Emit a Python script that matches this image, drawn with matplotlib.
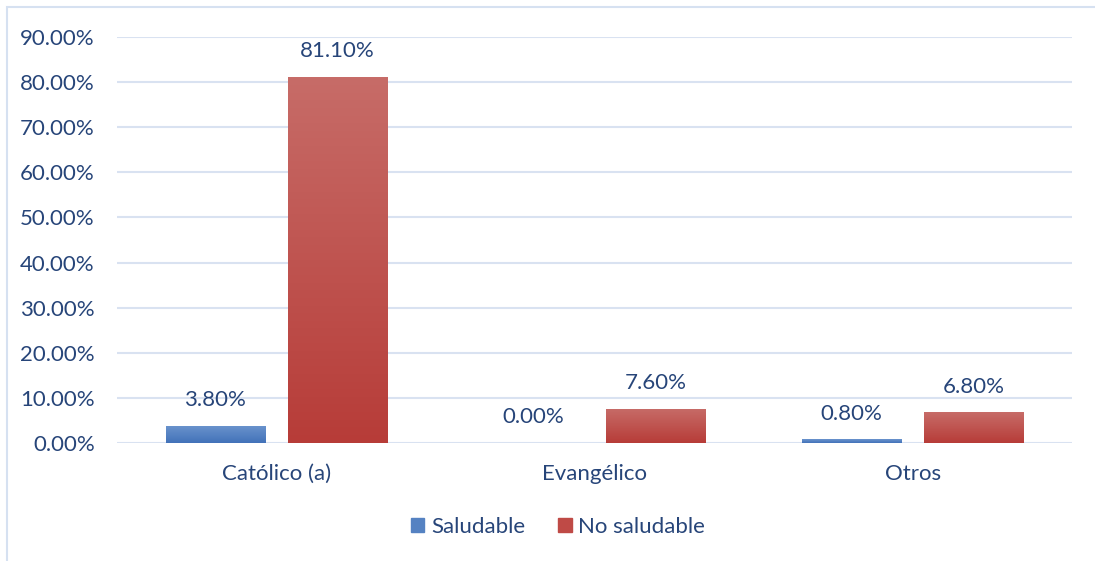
import matplotlib
matplotlib.use("Agg")
import matplotlib.pyplot as plt
import numpy as np
from matplotlib.patches import Rectangle
from matplotlib.colors import LinearSegmentedColormap

categories = ["Católico (a)", "Evangélico", "Otros"]
saludable = [3.80, 0.00, 0.80]
no_saludable = [81.10, 7.60, 6.80]
series_names = ["Saludable", "No saludable"]
y_ticks = [0, 10, 20, 30, 40, 50, 60, 70, 80, 90]

plt.rcParams['font.family'] = ['Lato', 'DejaVu Sans']
txt_color = '#274579'
grid_color = '#D9E2F1'
fs = 16

fig = plt.figure(figsize=(10.95, 5.61), dpi=100)
ax = fig.add_axes([117/1095, 118/561, (1072-117)/1095, (443-37)/561])

x = np.arange(len(categories))
w = 0.311
off = 0.192
b1 = ax.bar(x - off, saludable, w, color='#5582C2', label=series_names[0], zorder=3)
b2 = ax.bar(x + off, no_saludable, w, color='#BF4A46', label=series_names[1], zorder=3)

cm_blue = LinearSegmentedColormap.from_list('b', ['#4272B9', '#6B94CD'])
cm_red = LinearSegmentedColormap.from_list('r', ['#B73C38', '#C76C68'])
grad = np.linspace(0, 1, 256).reshape(-1, 1)
for bars, cm in ((b1, cm_blue), (b2, cm_red)):
    for p in bars:
        x0, y0 = p.get_x(), p.get_y()
        bw, bh = p.get_width(), p.get_height()
        if bh <= 0:
            continue
        im = ax.imshow(grad, cmap=cm, origin='lower', aspect='auto',
                       extent=(x0, x0 + bw, y0, y0 + bh), zorder=4)
        im.set_clip_path(p)

for bars, vals in ((b1, saludable), (b2, no_saludable)):
    for p, v in zip(bars, vals):
        ax.annotate(f"{v:.2f}%", (p.get_x() + p.get_width()/2, v),
                    xytext=(0, 18.5), textcoords='offset points',
                    ha='center', va='center', fontsize=fs, color=txt_color, zorder=5)

ax.set_xlim(-0.5, 2.5)
ax.set_ylim(0, 90)
ax.set_yticks(y_ticks)
ax.set_yticklabels([f"{t:.2f}%" for t in y_ticks])
ax.set_xticks(x)
ax.set_xticklabels(categories)
ax.tick_params(axis='both', length=0, labelsize=fs, labelcolor=txt_color)
ax.tick_params(axis='y', pad=16)
ax.tick_params(axis='x', pad=15)
ax.grid(axis='y', color=grid_color, linewidth=1.5, zorder=0)
ax.set_axisbelow(True)
for s in ax.spines.values():
    s.set_visible(False)

handles = [Rectangle((0, 0), 1, 1, color='#5582C2'), Rectangle((0, 0), 1, 1, color='#BF4A46')]
leg = fig.legend(handles, series_names, loc='center', bbox_to_anchor=(558/1095, 1 - 527/561),
                 ncol=2, frameon=False, fontsize=fs, handlelength=0.6, handleheight=0.6,
                 handletextpad=0.3, columnspacing=1.5)
for t in leg.get_texts():
    t.set_color(txt_color)

# chart area border (partially cropped)
fig.add_artist(Rectangle((7/1095, -0.2), 1.2, 1.2 - 7/561, transform=fig.transFigure,
                         fill=False, edgecolor='#D6E1F1', linewidth=1.5))

fig.savefig("out.png", dpi=100)
